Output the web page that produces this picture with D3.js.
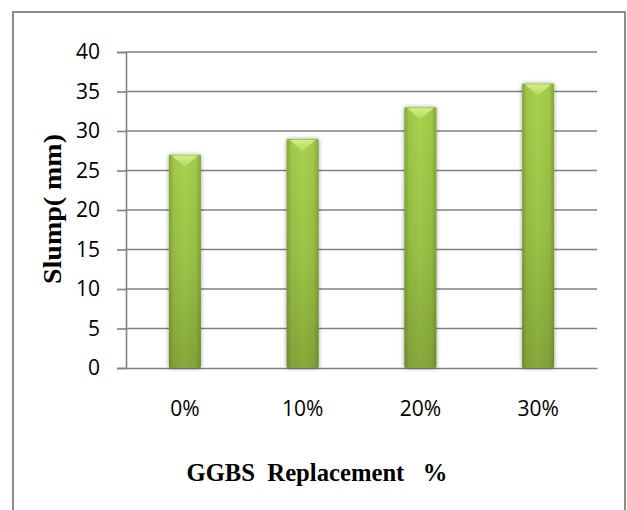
<!DOCTYPE html>
<html>
<head>
<meta charset="utf-8">
<script src="https://cdn.jsdelivr.net/npm/d3@7/dist/d3.min.js"></script>
<style>
  html, body { margin: 0; padding: 0; background: #fff; }
  svg { display: block; }
</style>
</head>
<body>
<svg id="chart" width="627" height="510"></svg>
<script>
// Slump test results for concrete with GGBS replacement
const categories = ["0%", "10%", "20%", "30%"];
const slumpValues = [27, 29, 33, 36];
const yTicks = [0, 5, 10, 15, 20, 25, 30, 35, 40];
const xTitle = "GGBS  Replacement   %";
const yTitle = "Slump( mm)";

const svg = d3.select("#chart");
const plot = { left: 126, right: 597, top: 52, bottom: 368 };

const y = d3.scaleLinear().domain([0, 40]).range([plot.bottom, plot.top]);
const x = d3.scaleBand()
  .domain(categories)
  .range([plot.left, plot.right])
  .paddingInner(0.728)
  .paddingOuter(0.364);

const defs = svg.append("defs");

// vertical body shading of the columns
const body = defs.append("linearGradient").attr("id", "barBody")
  .attr("x1", 0).attr("y1", 0).attr("x2", 0).attr("y2", 1);
body.append("stop").attr("offset", "0%").attr("stop-color", "#a9d24f");
body.append("stop").attr("offset", "50%").attr("stop-color", "#9cc447");
body.append("stop").attr("offset", "100%").attr("stop-color", "#86a83c");

// darker rounded edges across the column width
const edge = defs.append("linearGradient").attr("id", "barEdge")
  .attr("x1", 0).attr("y1", 0).attr("x2", 1).attr("y2", 0);
edge.append("stop").attr("offset", "0%").attr("stop-color", "#3d4f12").attr("stop-opacity", 0.35);
edge.append("stop").attr("offset", "15%").attr("stop-color", "#3d4f12").attr("stop-opacity", 0.08);
edge.append("stop").attr("offset", "50%").attr("stop-color", "#3d4f12").attr("stop-opacity", 0);
edge.append("stop").attr("offset", "85%").attr("stop-color", "#3d4f12").attr("stop-opacity", 0.08);
edge.append("stop").attr("offset", "100%").attr("stop-color", "#3d4f12").attr("stop-opacity", 0.35);

// light bevel at the top of each column
const cap = defs.append("linearGradient").attr("id", "barCap")
  .attr("x1", 0).attr("y1", 0).attr("x2", 0).attr("y2", 1);
cap.append("stop").attr("offset", "0%").attr("stop-color", "#d6ec86");
cap.append("stop").attr("offset", "100%").attr("stop-color", "#b4d85c");

const shadow = defs.append("filter").attr("id", "barShadow")
  .attr("x", "-40%").attr("y", "-10%").attr("width", "180%").attr("height", "120%");
shadow.append("feDropShadow")
  .attr("dx", 0).attr("dy", 0).attr("stdDeviation", 2)
  .attr("flood-color", "#000").attr("flood-opacity", 0.4);

// outer frame
svg.append("rect")
  .attr("x", 13).attr("y", 12)
  .attr("width", 612).attr("height", 520)
  .attr("fill", "none").attr("stroke", "#8c8c8c").attr("stroke-width", 2);

// horizontal gridlines
svg.append("g").selectAll("line")
  .data(yTicks.filter(d => d > 0))
  .join("line")
  .attr("x1", plot.left).attr("x2", plot.right)
  .attr("y1", d => y(d)).attr("y2", d => y(d))
  .attr("stroke", "#808080").attr("stroke-width", 1.6);

// y axis
const yAxis = svg.append("g")
  .attr("transform", `translate(${plot.left},0)`)
  .call(d3.axisLeft(y).tickValues(yTicks).tickSize(9).tickPadding(17));
yAxis.select(".domain").attr("stroke", "#808080").attr("stroke-width", 1.6);
yAxis.selectAll(".tick line").attr("stroke", "#808080").attr("stroke-width", 1.6);
yAxis.selectAll(".tick text")
  .attr("font-family", "'Open Sans', sans-serif")
  .attr("font-size", 21).attr("fill", "#000");

// x axis
const xAxis = svg.append("g")
  .attr("transform", `translate(0,${plot.bottom})`)
  .call(d3.axisBottom(x).tickSize(0));
xAxis.select(".domain").attr("stroke", "#808080").attr("stroke-width", 1.6);
xAxis.selectAll(".tick text")
  .attr("y", 48).attr("dy", 0)
  .attr("font-family", "'Open Sans', sans-serif")
  .attr("font-size", 21).attr("fill", "#000");

// columns
const bars = svg.append("g").selectAll("g")
  .data(categories.map((c, i) => ({ cat: c, value: slumpValues[i] })))
  .join("g");

bars.append("rect")
  .attr("x", d => x(d.cat)).attr("y", d => y(d.value))
  .attr("width", x.bandwidth())
  .attr("height", d => y(0) - y(d.value))
  .attr("rx", 2)
  .attr("fill", "url(#barBody)")
  .attr("filter", "url(#barShadow)");

bars.append("rect")
  .attr("x", d => x(d.cat)).attr("y", d => y(d.value))
  .attr("width", x.bandwidth())
  .attr("height", d => y(0) - y(d.value))
  .attr("fill", "url(#barEdge)");

bars.append("path")
  .attr("d", d => {
    const x0 = x(d.cat) + 3, x1 = x(d.cat) + x.bandwidth() - 3;
    const t = y(d.value) + 1, cx = (x0 + x1) / 2;
    return `M${x0},${t} L${x1},${t} L${cx},${t + 11} Z`;
  })
  .attr("fill", "url(#barCap)");

// axis titles
svg.append("text")
  .attr("x", 317).attr("y", 481)
  .attr("text-anchor", "middle")
  .style("white-space", "pre")
  .attr("font-family", "'Liberation Serif', 'Times New Roman', serif")
  .attr("font-weight", "bold").attr("font-size", 25)
  .attr("textLength", 261).attr("lengthAdjust", "spacingAndGlyphs")
  .attr("fill", "#000")
  .text(xTitle);

svg.append("text")
  .attr("transform", "translate(61,209) rotate(-90)")
  .attr("text-anchor", "middle")
  .style("white-space", "pre")
  .attr("font-family", "'Liberation Serif', 'Times New Roman', serif")
  .attr("font-weight", "bold").attr("font-size", 25)
  .attr("textLength", 150).attr("lengthAdjust", "spacingAndGlyphs")
  .attr("fill", "#000")
  .text(yTitle);
</script>
</body>
</html>
